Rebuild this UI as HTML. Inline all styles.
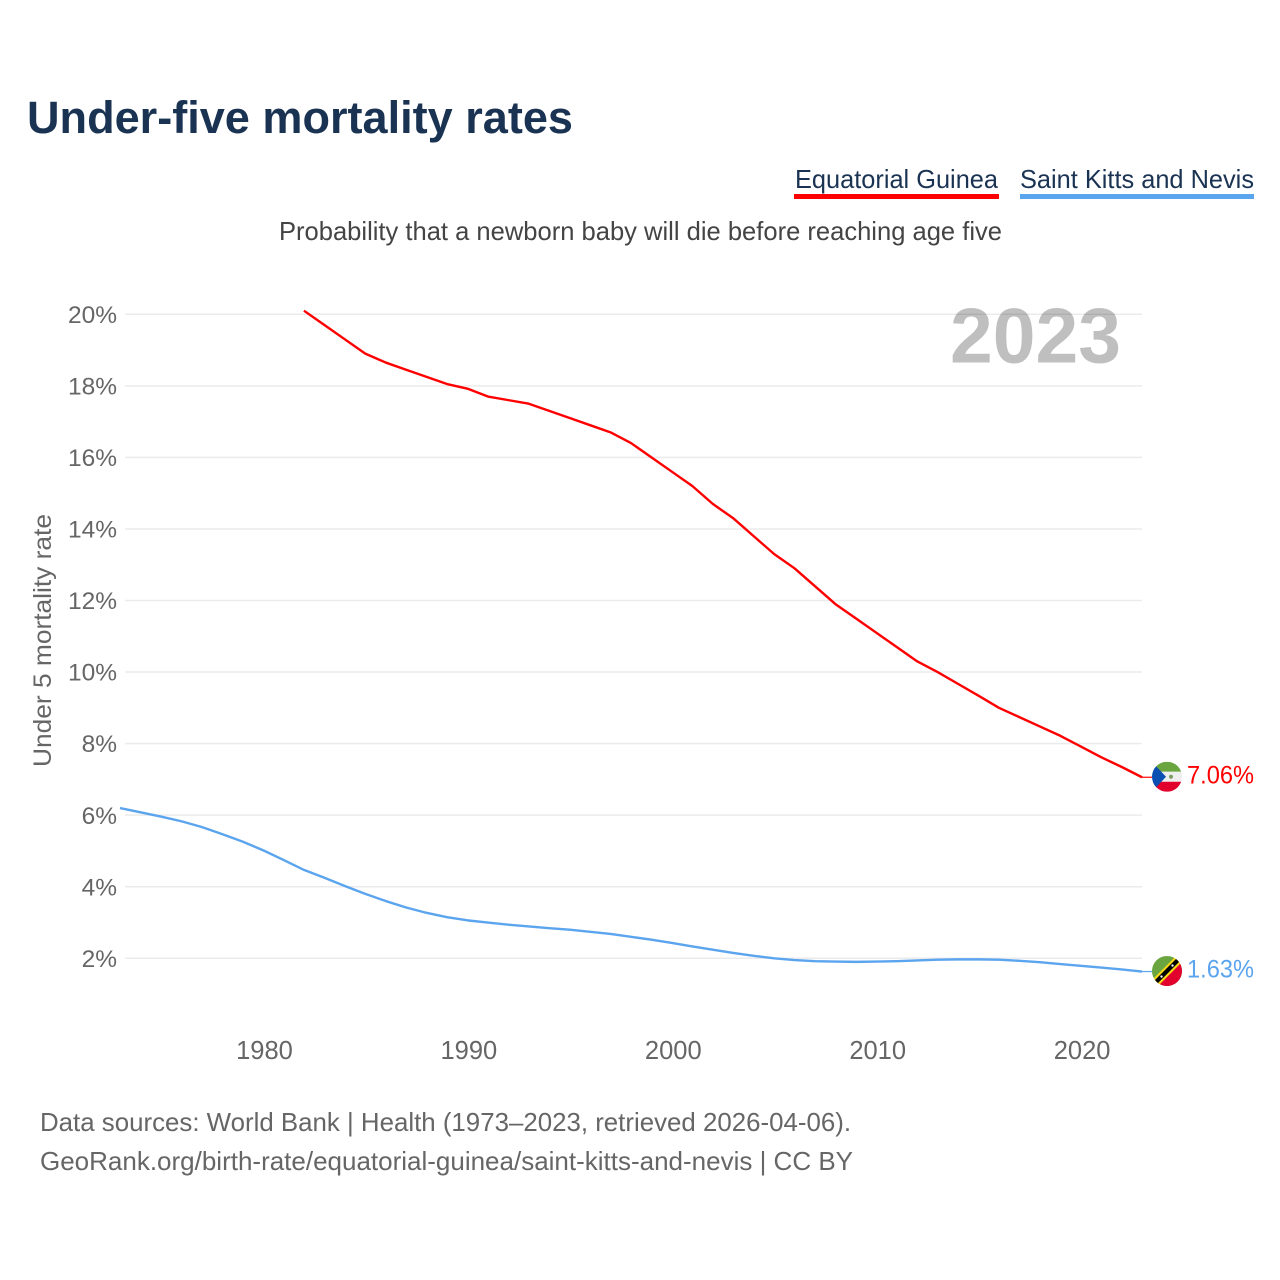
<!DOCTYPE html>
<html lang="en">
<head>
<meta charset="utf-8">
<title>Under-five mortality rates</title>
<style>
html,body{margin:0;padding:0;background:#fff;}
svg{display:block;font-family:"Liberation Sans",sans-serif;}
</style>
</head>
<body>
<svg id="chart" xmlns="http://www.w3.org/2000/svg" width="1280" height="1280" viewBox="0 0 1280 1280">
  <rect width="1280" height="1280" fill="#fff"/>
  <text x="27" y="133" font-size="45" font-weight="700" fill="#1a3353" textLength="546" lengthAdjust="spacingAndGlyphs">Under-five mortality rates</text>
  <g>
    <text x="795" y="188" font-size="26" fill="#1a3353" textLength="203" lengthAdjust="spacingAndGlyphs">Equatorial Guinea</text>
    <rect x="794" y="194" width="205" height="5" fill="#ff0000"/>
  </g>
  <g>
    <text x="1020" y="188" font-size="26" fill="#1a3353" textLength="234" lengthAdjust="spacingAndGlyphs">Saint Kitts and Nevis</text>
    <rect x="1020" y="194" width="234" height="5" fill="#5ba4ee"/>
  </g>
  <text x="279" y="240" font-size="26" fill="#444444" textLength="723" lengthAdjust="spacingAndGlyphs">Probability that a newborn baby will die before reaching age five</text>
  <text transform="translate(51 767) rotate(-90)" font-size="25" fill="#666666" textLength="253" lengthAdjust="spacingAndGlyphs">Under 5 mortality rate</text>
  <g id="grid"></g>
  <g id="y-ticks"></g>
  <g id="x-ticks"></g>
  <text x="950" y="362.5" font-size="78" font-weight="700" fill="#000000" fill-opacity="0.25" textLength="171" lengthAdjust="spacingAndGlyphs">2023</text>
  <g id="series"></g>
  <defs>
    <clipPath id="flag-clip"><circle cx="15" cy="15" r="15"/></clipPath>
  </defs>
  <g id="flag-gq">
    <g clip-path="url(#flag-clip)">
      <rect width="30" height="10" fill="#6ba53f"/>
      <rect y="10" width="30" height="10" fill="#eeeeee"/>
      <rect y="20" width="30" height="10" fill="#e2002d"/>
      <polygon points="0,0 14,15 0,30" fill="#0b4fb3"/>
      <circle cx="19" cy="15" r="2" fill="#7b9c62"/>
    </g>
  </g>
  <g id="flag-kn">
    <g clip-path="url(#flag-clip)">
      <rect width="30" height="30" fill="#6ba53f"/>
      <polygon points="30,0 30,30 0,30" fill="#e2002d"/>
      <polygon points="-2,26 26,-2 32,4 4,32" fill="#f7d917"/>
      <polygon points="0,27 27,0 30,3 3,30" fill="#000"/>
      <circle cx="9.5" cy="20.5" r="1.2" fill="#fff"/>
      <circle cx="20.5" cy="9.5" r="1.2" fill="#fff"/>
    </g>
  </g>
  <g id="end-labels"></g>
  <text x="40" y="1131" font-size="26" fill="#666666" textLength="811" lengthAdjust="spacingAndGlyphs">Data sources: World Bank | Health (1973–2023, retrieved 2026-04-06).</text>
  <text x="40" y="1170" font-size="26" fill="#666666" textLength="813" lengthAdjust="spacingAndGlyphs">GeoRank.org/birth-rate/equatorial-guinea/saint-kitts-and-nevis | CC BY</text>
</svg>
<script>
const yTickValues = [2, 4, 6, 8, 10, 12, 14, 16, 18, 20];
const xTickYears = [1980, 1990, 2000, 2010, 2020];
const guineaStartYear = 1982;
const guineaValues = [20.1, 19.7, 19.3, 18.9, 18.65, 18.45, 18.25, 18.05, 17.92, 17.7, 17.6, 17.5, 17.3, 17.1, 16.9, 16.7, 16.4, 16.0, 15.6, 15.2, 14.7, 14.3, 13.8, 13.3, 12.9, 12.4, 11.9, 11.5, 11.1, 10.7, 10.3, 10.0, 9.67, 9.34, 9.0, 8.74, 8.48, 8.22, 7.92, 7.62, 7.35, 7.06];
const kittsStartYear = 1973;
const kittsValues = [6.2, 6.08, 5.96, 5.83, 5.67, 5.47, 5.26, 5.02, 4.75, 4.47, 4.25, 4.02, 3.8, 3.6, 3.42, 3.27, 3.15, 3.06, 3.0, 2.94, 2.89, 2.84, 2.8, 2.74, 2.68, 2.6, 2.52, 2.43, 2.33, 2.24, 2.15, 2.07, 2.0, 1.95, 1.92, 1.91, 1.9, 1.91, 1.92, 1.94, 1.96, 1.97, 1.97, 1.96, 1.93, 1.89, 1.84, 1.79, 1.74, 1.69, 1.63];
const guineaColor = '#ff0000';
const kittsColor = '#5ba4ee';

const NS = 'http://www.w3.org/2000/svg';
function xScale(year) { return 120 + (year - 1973) * 20.44; }
function yScale(value) { return 958.3 - (value - 2) * 35.78; }
function make(tag, parent, attrs, text) {
  const el = document.createElementNS(NS, tag);
  for (const k in attrs) el.setAttribute(k, attrs[k]);
  if (text !== undefined) el.textContent = text;
  parent.appendChild(el);
  return el;
}
const gridGroup = document.getElementById('grid');
const yTickGroup = document.getElementById('y-ticks');
const xTickGroup = document.getElementById('x-ticks');
const seriesGroup = document.getElementById('series');
const endLabelGroup = document.getElementById('end-labels');

yTickValues.forEach(function (v) {
  const line = make('line', gridGroup, { x1: 125, x2: 1142, y1: yScale(v), y2: yScale(v), stroke: '#ebebeb', 'stroke-width': 1.5 });
  
  
  const label = String(v) + '%';
  const t = make('text', yTickGroup, { x: 117, y: yScale(v) + 8.6, 'font-size': 24.5, fill: '#666666', 'text-anchor': 'end' }, label);
  
  
});
xTickYears.forEach(function (year) {
  const t = make('text', xTickGroup, { x: xScale(year) + 1.4, y: 1059, 'font-size': 25.5, fill: '#666666', 'text-anchor': 'middle' }, String(year));
  
  
});
function linePath(values, startYear) {
  return values.map(function (v, i) {
    return (i ? 'L' : 'M') + xScale(startYear + i).toFixed(2) + ' ' + yScale(v).toFixed(2);
  }).join(' ');
}
const guineaLine = make('path', seriesGroup, { d: linePath(guineaValues, guineaStartYear), fill: 'none', stroke: guineaColor, 'stroke-width': 2.4, 'stroke-linejoin': 'round' });


const kittsLine = make('path', seriesGroup, { d: linePath(kittsValues, kittsStartYear), fill: 'none', stroke: kittsColor, 'stroke-width': 2.4, 'stroke-linejoin': 'round' });



function addEnd(values, startYear, color, flagId, labelName, connectorName) {
  const last = values[values.length - 1];
  const year = startYear + values.length - 1;
  const y = yScale(last);
  const c = make('line', seriesGroup, { x1: xScale(year), x2: 1153, y1: y, y2: y, stroke: color, 'stroke-width': 1.2 });
  
  
  document.getElementById(flagId).setAttribute('transform', 'translate(1152 ' + (y - 15.5) + ')');
  const t = make('text', endLabelGroup, { x: 1187, y: y + 6, 'font-size': 25, fill: color, textLength: 67, lengthAdjust: 'spacingAndGlyphs' }, last.toFixed(2) + '%');
  
  
}
addEnd(guineaValues, guineaStartYear, guineaColor, 'flag-gq', 'end-label-equatorial-guinea', 'connector-equatorial-guinea');
addEnd(kittsValues, kittsStartYear, kittsColor, 'flag-kn', 'end-label-saint-kitts-and-nevis', 'connector-saint-kitts-and-nevis');
</script>
</body>
</html>
